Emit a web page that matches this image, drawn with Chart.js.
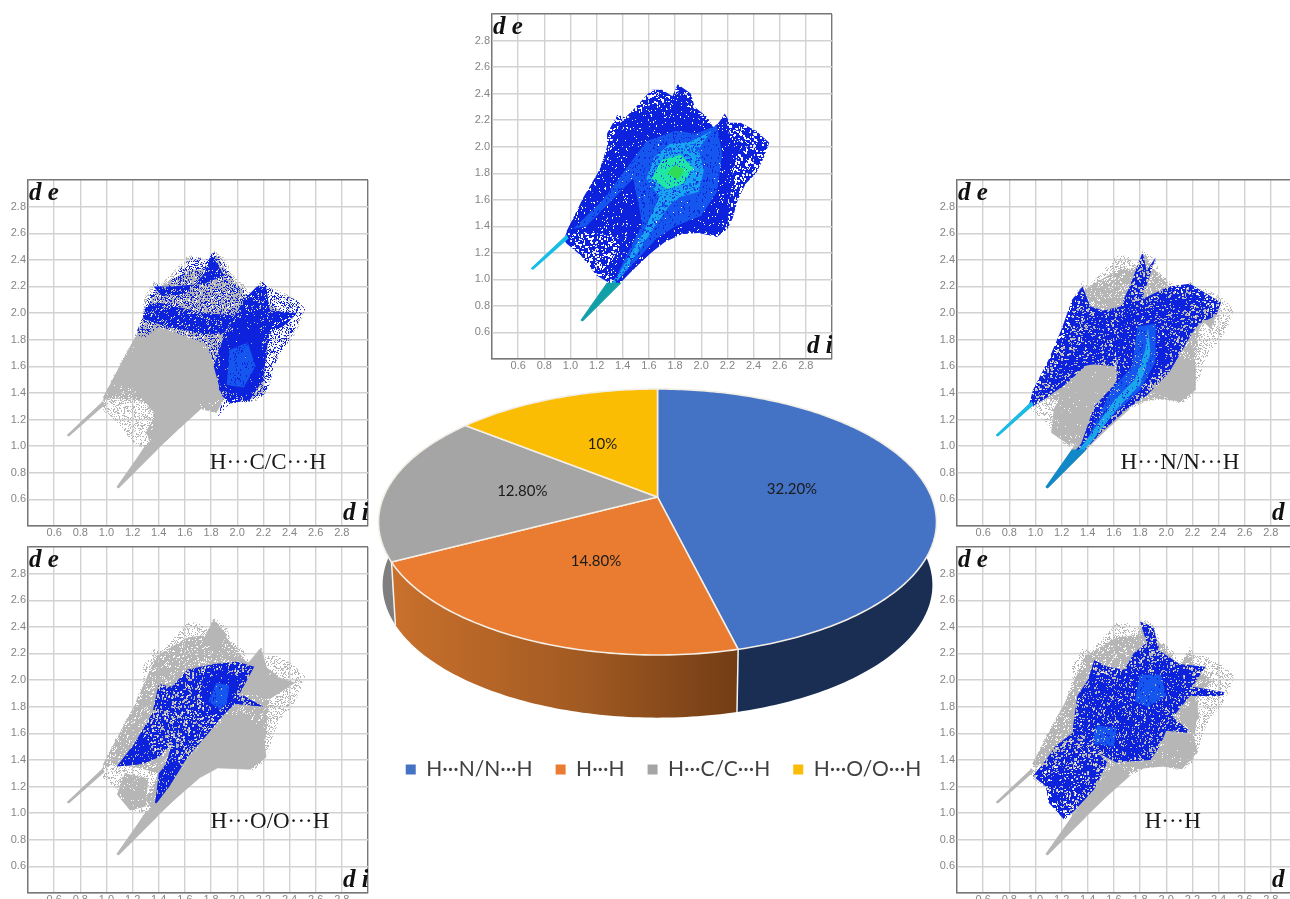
<!DOCTYPE html>
<html><head><meta charset="utf-8">
<script src="https://cdn.jsdelivr.net/npm/chart.js@4"></script>
<style>
html,body{margin:0;padding:0;background:#fff;width:1290px;height:899px;overflow:hidden}
canvas{position:absolute;display:block}
canvas.fp{filter:blur(0.5px)}
</style></head><body>
<script>
// ---------- pie data ----------
const pieCategories = ['H···N/N···H','H···H','H···C/C···H','H···O/O···H'];
const pieValues = [32.2,14.8,12.8,10];
const pieLabels = ['32.20%','14.80%','12.80%','10%'];
const pieColors = ['#4472C4','#E97C30','#A5A5A5','#FBBC04'];

// ---------- fingerprint axis ----------
const axisMin = 0.4, axisMax = 3.0, axisStep = 0.2;

// ---------- fingerprint outlines, read as (d_i, d_e) ----------
const OUTLINE = [[0.95,1.30],[0.98,1.38],[1.10,1.62],[1.22,1.82],[1.28,2.0],[1.28,2.10],[1.36,2.24],[1.42,2.22],[1.50,2.30],[1.62,2.43],[1.70,2.43],[1.78,2.38],[1.82,2.47],[1.92,2.40],[1.95,2.30],[2.05,2.22],[2.10,2.13],[2.18,2.25],[2.22,2.18],[2.30,2.18],[2.42,2.12],[2.52,2.03],[2.48,1.92],[2.42,1.80],[2.34,1.72],[2.28,1.60],[2.24,1.46],[2.20,1.38],[2.12,1.32],[1.98,1.35],[1.85,1.34],[1.72,1.28],[1.55,1.15],[1.38,0.97],[1.30,0.97],[1.20,1.03],[1.08,1.18],[0.97,1.27]];
const BODY = [[0.97,1.36],[1.10,1.60],[1.22,1.82],[1.30,2.0],[1.38,2.18],[1.50,2.25],[1.62,2.32],[1.78,2.34],[1.84,2.44],[1.90,2.34],[2.02,2.20],[2.10,2.10],[2.18,2.22],[2.22,2.10],[2.35,2.0],[2.25,1.88],[2.22,1.60],[2.20,1.40],[2.08,1.34],[1.90,1.36],[1.72,1.30],[1.38,0.98],[1.30,1.10],[1.40,1.30],[1.20,1.35],[1.0,1.36]];
const LOWER_WEDGE = [[1.16,0.78],[1.25,0.87],[1.38,0.97],[1.55,1.13],[1.72,1.28],[1.62,1.38],[1.48,1.22],[1.38,1.08],[1.28,0.98]];
const UPPER_TAIL = [[0.70,1.08],[0.97,1.33],[0.98,1.31],[0.71,1.075]];
const LOWER_TAIL = [[1.08,0.69],[1.28,0.97],[1.38,0.97],[1.09,0.685]];

// centre panel, all contacts
const ALL_DENSE = [[0.98,1.36],[1.14,1.60],[1.24,1.80],[1.34,2.0],[1.42,2.12],[1.60,2.15],[1.72,2.24],[1.82,2.42],[1.90,2.30],[2.06,2.12],[2.18,2.22],[2.22,2.06],[2.30,1.98],[2.22,1.84],[2.20,1.60],[2.16,1.42],[2.04,1.36],[1.85,1.36],[1.70,1.28],[1.38,0.98],[1.28,1.05],[1.42,1.24],[1.44,1.44],[1.30,1.48],[1.16,1.36],[1.0,1.34]];
const ALL_MID = [[1.02,1.38],[1.25,1.60],[1.40,1.80],[1.58,2.04],[1.80,2.12],[1.96,2.10],[2.12,2.16],[2.16,1.94],[2.12,1.66],[2.00,1.48],[1.80,1.40],[1.65,1.30],[1.40,1.03],[1.36,1.04],[1.55,1.42],[1.48,1.76],[1.30,1.58],[1.12,1.40]];
const ALL_CYAN = [[1.58,1.76],[1.64,1.92],[1.76,2.02],[1.92,2.04],[2.08,2.12],[1.98,1.98],[2.02,1.82],[1.98,1.66],[1.84,1.62],[1.76,1.56],[1.62,1.36],[1.42,1.06],[1.14,0.74],[1.38,1.06],[1.56,1.36],[1.68,1.62]];
const ALL_GREEN = [[1.62,1.76],[1.70,1.90],[1.84,1.94],[1.94,1.84],[1.86,1.72],[1.74,1.68]];
const ALL_CORE = [[1.74,1.80],[1.80,1.86],[1.87,1.82],[1.82,1.75]];

// H···C/C···H
const GRAY_CH = [[0.97,1.34],[1.10,1.60],[1.22,1.82],[1.38,1.90],[1.76,1.77],[1.81,1.65],[1.91,1.37],[1.84,1.25],[1.72,1.28],[1.38,0.97],[1.32,1.05],[1.42,1.30],[1.62,1.42],[1.70,1.62],[1.45,1.62],[1.22,1.50],[1.10,1.40]];
const GRAY_CH_FILL = [[1.10,1.50],[1.22,1.72],[1.38,1.86],[1.72,1.76],[1.80,1.60],[1.88,1.38],[1.70,1.32],[1.50,1.20],[1.40,1.02],[1.36,1.26],[1.20,1.44]];
const BLUE_CH = [[1.22,1.83],[1.28,1.98],[1.30,2.08],[1.38,2.22],[1.45,2.18],[1.55,2.32],[1.65,2.42],[1.78,2.40],[1.82,2.46],[1.92,2.36],[1.98,2.22],[2.10,2.15],[2.20,2.24],[2.30,2.15],[2.45,2.10],[2.52,2.03],[2.46,1.92],[2.40,1.80],[2.34,1.72],[2.28,1.60],[2.25,1.47],[2.20,1.38],[2.08,1.33],[2.00,1.33],[1.92,1.30],[1.84,1.21],[1.90,1.36],[1.81,1.65],[1.76,1.77],[1.40,1.90],[1.30,1.82]];
const BLUE_CH_RIGHT = [[1.82,1.60],[1.88,1.78],[1.98,1.98],[2.05,2.10],[2.15,2.20],[2.22,2.20],[2.25,2.02],[2.46,2.0],[2.35,1.90],[2.24,1.85],[2.20,1.50],[2.10,1.35],[1.95,1.32],[1.88,1.38]];
const BLUE_CH_BAND = [[1.28,1.96],[1.45,1.90],[1.78,1.84],[1.90,1.85],[2.0,1.98],[1.75,2.0],[1.40,2.08],[1.30,2.05]];
const BLUE_CH_TOP = [[1.36,2.20],[1.50,2.20],[1.75,2.22],[1.90,2.28],[1.80,2.45],[1.75,2.30],[1.60,2.14],[1.42,2.13]];
const BLUE_CH_DEEP = [[1.86,1.42],[1.88,1.72],[2.0,1.92],[2.16,2.02],[2.20,1.60],[2.10,1.38]];
const BLUE_CH_CORE = [[1.92,1.46],[1.94,1.72],[2.08,1.78],[2.14,1.60],[2.05,1.44]];

// H···O/O···H
const GRAY_OH = [[1.38,0.98],[1.48,1.18],[1.62,1.40],[1.78,1.58],[1.92,1.72],[2.06,1.74],[2.20,1.60],[2.22,1.42],[2.10,1.33],[1.85,1.34],[1.72,1.27]];
const GRAY_OH_TOP = [[2.06,2.10],[2.18,2.24],[2.24,2.04],[2.44,1.98],[2.25,1.86],[2.04,1.92]];
const GRAY_OH_CREST = [[1.74,2.30],[1.82,2.45],[1.92,2.34],[1.84,2.20]];
const GRAY_OH_PATCH = [[1.08,1.14],[1.14,1.30],[1.32,1.26],[1.30,1.05],[1.18,1.02]];
const BLUE_OH = [[1.08,1.35],[1.20,1.50],[1.35,1.75],[1.40,1.97],[1.50,1.95],[1.62,2.08],[1.82,2.12],[2.0,2.14],[2.13,2.10],[2.02,1.90],[2.20,1.80],[1.98,1.82],[1.88,1.72],[1.78,1.60],[1.62,1.42],[1.48,1.20],[1.37,1.06],[1.40,1.25],[1.47,1.42],[1.50,1.52],[1.40,1.42],[1.28,1.37]];
const BLUE_OH_TIP_A = [[1.08,1.35],[1.18,1.48],[1.30,1.58],[1.38,1.44],[1.26,1.37]];
const BLUE_OH_TIP_B = [[1.37,1.06],[1.40,1.30],[1.50,1.42],[1.58,1.36],[1.48,1.20]];
const BLUE_OH_CORE = [[1.72,1.86],[1.74,2.04],[1.90,2.08],[2.04,2.0],[1.96,1.84],[1.84,1.76]];
const BLUE_OH_GLOW = [[1.78,1.84],[1.84,1.98],[1.94,1.96],[1.92,1.82],[1.86,1.78]];

// H···N/N···H
const GRAY_NH = [[1.25,1.48],[1.40,1.62],[1.60,1.62],[1.63,1.46],[1.46,1.30],[1.36,1.02],[1.24,1.02],[1.12,1.10],[1.14,1.28]];
const GRAY_NH_RIGHT = [[1.90,1.40],[2.02,1.56],[2.10,1.68],[2.22,1.60],[2.22,1.42],[2.10,1.33]];
const GRAY_NH_TOP = [[2.28,1.94],[2.40,2.04],[2.34,1.88]];
const BLUE_NH_WING = [[0.95,1.31],[0.98,1.42],[1.10,1.65],[1.20,1.88],[1.28,2.10],[1.36,2.20],[1.42,2.05],[1.52,2.02],[1.65,2.05],[1.72,2.20],[1.82,2.46],[1.85,2.32],[1.92,2.42],[1.82,2.12],[1.72,1.90],[1.65,1.72],[1.60,1.60],[1.40,1.62],[1.25,1.48],[1.08,1.36],[0.98,1.30]];
const BLUE_NH_BODY = [[1.08,0.69],[1.25,0.90],[1.35,1.02],[1.45,1.30],[1.62,1.48],[1.62,1.65],[1.60,1.82],[1.68,2.05],[1.85,2.12],[2.02,2.20],[2.18,2.22],[2.30,2.15],[2.42,2.08],[2.38,1.98],[2.25,1.92],[2.20,1.85],[2.08,1.65],[2.02,1.55],[1.85,1.38],[1.70,1.28],[1.50,1.10],[1.37,0.96],[1.25,0.87]];
const DENSE_NH_WING = [[1.0,1.36],[1.12,1.52],[1.30,1.72],[1.45,2.02],[1.62,2.02],[1.50,1.78],[1.58,1.64],[1.36,1.60],[1.20,1.44]];
const DENSE_NH_BODY = [[1.38,1.02],[1.50,1.32],[1.64,1.52],[1.64,1.80],[1.72,2.02],[2.0,2.14],[2.16,2.12],[2.10,1.84],[1.98,1.58],[1.80,1.42],[1.62,1.24]];
const CYAN_NH = [[1.12,0.72],[1.40,1.06],[1.60,1.34],[1.76,1.50],[1.84,1.72],[1.86,1.90],[1.88,1.70],[1.80,1.46],[1.64,1.30],[1.42,1.02]];
const MID_NH = [[1.38,1.02],[1.58,1.42],[1.74,1.60],[1.78,1.90],[1.92,1.92],[1.92,1.64],[1.80,1.42],[1.60,1.24]];

// H···H
const GRAY_HH = [[1.64,1.36],[1.92,1.42],[2.02,1.60],[2.20,1.60],[2.24,1.46],[2.12,1.33],[1.98,1.35],[1.85,1.34]];
const GRAY_HH_LOW = [[1.30,1.00],[1.38,1.12],[1.52,1.24],[1.60,1.36],[1.72,1.30],[1.38,0.98]];
const GRAY_HH_SIDE = [[2.10,1.72],[2.22,1.86],[2.25,1.72],[2.18,1.62]];
const BLUE_HH = [[0.98,1.28],[1.08,1.40],[1.15,1.50],[1.28,1.60],[1.32,1.88],[1.40,2.0],[1.45,2.15],[1.55,2.10],[1.68,2.08],[1.75,2.20],[1.85,2.28],[1.80,2.44],[1.90,2.40],[1.95,2.22],[2.10,2.12],[2.30,2.10],[2.20,1.95],[2.44,1.91],[2.44,1.88],[2.18,1.88],[2.05,1.72],[2.20,1.60],[2.0,1.62],[1.95,1.50],[1.88,1.40],[1.62,1.38],[1.48,1.45],[1.55,1.38],[1.45,1.18],[1.30,1.02],[1.22,0.95],[1.10,1.08],[1.08,1.20]];
const DENSE_HH = [[1.32,1.62],[1.34,1.86],[1.44,2.04],[1.66,2.02],[1.78,2.12],[1.95,2.14],[2.12,2.06],[2.16,1.90],[2.04,1.72],[2.10,1.62],[1.96,1.62],[1.88,1.42],[1.62,1.40],[1.46,1.50]];
const DENSE_HH_LOW = [[1.12,1.10],[1.12,1.30],[1.24,1.36],[1.30,1.22],[1.20,1.08]];
const GLOW_HH = [[1.44,1.52],[1.46,1.66],[1.62,1.64],[1.60,1.50]];
const GLOW_HH_TOP = [[1.76,1.84],[1.80,2.04],[1.96,2.04],[2.00,1.88],[1.86,1.80]];

// ---------- styles ----------
const BLUE='#0c22dc', MID='#1556ee', CY='#17bde6', GR='#1fe6a4', CORE='#2fdc58', GRAY='#b6b6b6';

let textureOffset=0;
function texture(color, kind){
  const n=96, c=document.createElement('canvas'); c.width=c.height=n;
  const g=c.getContext('2d');
  const cover={dots:3400,mixed:1500,dense:700}[kind];
  g.fillStyle=color;
  if(kind!=='dots') g.fillRect(0,0,n,n);
  textureOffset+=397;
  for(let j=1;j<=cover;j++){
    const i=j+textureOffset;
    const x=Math.floor(((i*i*0.00137+i*0.7548777)%1)*n), y=Math.floor(((i*i*0.00091+i*0.5698403)%1)*n);
    if(kind==='dots') g.fillRect(x,y,1,1);
    else if(kind==='mixed') g.clearRect(x,y,1+j%2,1+(j>>1)%2);
    else g.clearRect(x,y,1,1+j%2);
  }
  return g.createPattern(c,'repeat');
}

const grayBase = [
  {pts:OUTLINE,color:GRAY,kind:'dots'},
  {pts:BODY,color:GRAY,kind:'mixed'},
  {pts:LOWER_WEDGE,color:GRAY},
  {pts:UPPER_TAIL,color:GRAY,line:1.2},
  {pts:LOWER_TAIL,color:GRAY,line:1.2}
];
const panels = [
 {left:492,top:14,h:345,layers:[
   {pts:OUTLINE,color:BLUE,kind:'mixed'},
   {pts:BODY,color:BLUE,kind:'dense'},
   {pts:ALL_DENSE,color:BLUE,kind:'dense'},
   {pts:ALL_MID,color:MID,kind:'dense'},
   {pts:ALL_CYAN,color:'#18a4ee',kind:'mixed'},
   {pts:ALL_GREEN,color:GR,kind:'dense'},
   {pts:ALL_CORE,color:CORE},
   {pts:UPPER_TAIL,color:CY,line:1.2},
   {pts:LOWER_TAIL,color:'#12a0a8',line:1.2}
 ]},
 {left:28,top:180,h:346,note:'H···C/C···H',noteAt:[2.235,0.873],layers:[...grayBase,
   {pts:GRAY_CH,color:GRAY,kind:'dense'},
   {pts:GRAY_CH_FILL,color:GRAY},
   {pts:BLUE_CH,color:BLUE,kind:'dots'},
   {pts:BLUE_CH_BAND,color:BLUE,kind:'mixed'},
   {pts:BLUE_CH_TOP,color:BLUE,kind:'mixed'},
   {pts:BLUE_CH_RIGHT,color:BLUE,kind:'mixed'},
   {pts:BLUE_CH_DEEP,color:BLUE,kind:'dense'},
   {pts:BLUE_CH_CORE,color:MID,kind:'dense'}
 ]},
 {left:28,top:547,h:346,note:'H···O/O···H',noteAt:[2.25,0.933],layers:[...grayBase,
   {pts:GRAY_OH,color:GRAY},{pts:GRAY_OH_TOP,color:GRAY},{pts:GRAY_OH_CREST,color:GRAY},{pts:GRAY_OH_PATCH,color:GRAY,kind:'dense'},
   {pts:BLUE_OH,color:BLUE,kind:'mixed'},
   {pts:BLUE_OH_TIP_A,color:BLUE,kind:'dense'},
   {pts:BLUE_OH_TIP_B,color:BLUE,kind:'dense'},
   {pts:BLUE_OH_CORE,color:BLUE,kind:'dense'},
   {pts:BLUE_OH_GLOW,color:MID,kind:'dense'}
 ]},
 {left:957,top:180,h:346,note:'H···N/N···H',noteAt:[2.105,0.873],layers:[...grayBase,
   {pts:GRAY_NH,color:GRAY,kind:'dense'},{pts:GRAY_NH_RIGHT,color:GRAY},{pts:GRAY_NH_TOP,color:GRAY},
   {pts:BLUE_NH_WING,color:BLUE,kind:'mixed'},
   {pts:BLUE_NH_BODY,color:BLUE,kind:'mixed'},
   {pts:DENSE_NH_WING,color:BLUE,kind:'mixed'},
   {pts:DENSE_NH_BODY,color:BLUE,kind:'mixed'},
   {pts:MID_NH,color:MID,kind:'dense'},
   {pts:CYAN_NH,color:'#1ba6ea',kind:'dense'},
   {pts:UPPER_TAIL,color:CY,line:1.2},
   {pts:LOWER_TAIL,color:'#1188c8',line:1.2}
 ]},
 {left:957,top:547,h:346,note:'H···H',noteAt:[2.05,0.933],layers:[...grayBase,
   {pts:GRAY_HH,color:GRAY,kind:'dense'},{pts:GRAY_HH_LOW,color:GRAY},{pts:GRAY_HH_SIDE,color:GRAY},
   {pts:BLUE_HH,color:BLUE,kind:'mixed'},
   {pts:DENSE_HH,color:BLUE,kind:'mixed'},
   {pts:DENSE_HH_LOW,color:BLUE,kind:'mixed'},
   {pts:GLOW_HH,color:MID,kind:'dense'},
   {pts:GLOW_HH_TOP,color:MID,kind:'dense'}
 ]}
];

const AXIS_W=28, AXIS_H=20, PLOT_W=340;
const frameColor=c=>{const v=c.tick&&c.tick.value;return (v<axisMin+0.05||v>axisMax-0.05)?'#777':'#d2d2d2';};
const tickText=v=>(v<axisMin+0.05||v>axisMax-0.05)?'':Number(v).toFixed(1);

const fpText={id:'fpText',afterDatasetsDraw(chart,_a,o){
  const {ctx,chartArea:A,scales:S}=chart;
  ctx.save();
  ctx.beginPath();ctx.rect(A.left-2,A.top,A.right-A.left+2,A.bottom-A.top);ctx.clip();
  ctx.fillStyle='#111';ctx.textBaseline='alphabetic';ctx.textAlign='left';
  ctx.font='bold italic 25px "Liberation Serif"';
  ctx.fillText('d e',A.left+1,A.top+20);
  ctx.fillText('d i',A.right-25,A.bottom-6);
  if(o.note){
    ctx.font='23px "Liberation Serif"';ctx.textAlign='center';ctx.textBaseline='middle';ctx.fillStyle='#1a1a1a';
    ctx.fillText(o.note,S.x.getPixelForValue(o.noteAt[0]),S.y.getPixelForValue(o.noteAt[1]));
  }
  ctx.restore();
}};

panels.forEach(p=>{
  const cv=document.createElement('canvas');
  cv.className='fp';cv.width=AXIS_W+PLOT_W+2;cv.height=p.h+AXIS_H+1;
  cv.style.left=(p.left-AXIS_W)+'px';cv.style.top=(p.top-1)+'px';
  document.body.appendChild(cv);
  // Chart.js paints the first dataset last, so the layers are handed over top first
  const datasets=p.layers.map(l=>({
    data:l.pts.map(([x,y])=>({x,y})),showLine:true,fill:'shape',tension:0,pointRadius:0,
    borderWidth:l.line||0.6,borderColor:l.line?l.color:(l.kind?'rgba(0,0,0,0)':l.color),
    backgroundColor:l.kind?texture(l.color,l.kind):l.color
  })).reverse();
  new Chart(cv,{type:'scatter',data:{datasets},plugins:[fpText],options:{
    responsive:false,animation:false,devicePixelRatio:1,
    layout:{padding:{top:1,right:2,left:0,bottom:0}},
    plugins:{legend:{display:false},tooltip:{enabled:false},fpText:{note:p.note,noteAt:p.noteAt}},
    scales:{
      x:{type:'linear',min:axisMin,max:axisMax,afterFit(s){s.height=AXIS_H;s.paddingLeft=0;s.paddingRight=0;},
        afterBuildTicks(s){s.ticks.forEach(t=>{t.value=Math.round(t.value*10)/10;});},
        ticks:{stepSize:axisStep,autoSkip:false,maxRotation:0,padding:0,callback:tickText,color:'#858585',font:{family:'"Liberation Sans"',size:11}},
        grid:{color:frameColor,lineWidth:1.4,drawTicks:false},border:{color:'#777',width:1.2}},
      y:{type:'linear',min:axisMin,max:axisMax,afterFit(s){s.width=AXIS_W;s.paddingTop=0;s.paddingBottom=0;},
        afterBuildTicks(s){s.ticks.forEach(t=>{t.value=Math.round(t.value*10)/10;});},
        ticks:{stepSize:axisStep,autoSkip:false,padding:2,callback:tickText,color:'#858585',font:{family:'"Liberation Sans"',size:11}},
        grid:{color:frameColor,lineWidth:1.4,drawTicks:false},border:{color:'#777',width:1.2}}
    }}});
});

// ---------- the perspective pie ----------
const PIE_SHIFT=-6;
const PIE_TOP={apexY:117,a:128.3,b:274,k:0.188};
const PIE_BOTTOM={apexY:180,a:128,b:270,k:0.188};
function project(f,cx,ang,r=1){
  const X=Math.cos(ang)*r,Y=Math.sin(ang)*r,d=1-f.k*Y;
  return [cx+PIE_SHIFT+f.b*X/d,f.apexY+f.a*Y/d];
}
const wallPaint=[
  (g)=>'#1a2e54',
  (g)=>{const l=g.createLinearGradient(17,0,361,0);l.addColorStop(0,'#c9702c');l.addColorStop(0.55,'#a15a22');l.addColorStop(1,'#733d15');return l;},
  (g)=>'#7f7f7f',
  (g)=>'#a07a00'
];
const pie3d={id:'pie3d',beforeDatasetsDraw(chart){
  const g=chart.ctx,arcs=chart.getDatasetMeta(0).data,STEP=Math.PI/180;
  const span=(a,b)=>{const o=[];for(let t=a;t<b;t+=STEP)o.push(t);o.push(b);return o;};
  g.save();
  // side walls, back to front
  [3,2,0,1].forEach(i=>{
    const e=arcs[i],ts=span(e.startAngle,e.endAngle);
    g.beginPath();
    ts.forEach((t,n)=>{const p=project(PIE_TOP,e.x,t);n?g.lineTo(p[0],p[1]):g.moveTo(p[0],p[1]);});
    ts.slice().reverse().forEach(t=>{const p=project(PIE_BOTTOM,e.x,t);g.lineTo(p[0],p[1]);});
    g.closePath();g.fillStyle=wallPaint[i](g);g.fill();
  });
  // joints between walls on the visible side
  g.strokeStyle='#f4f4f4';g.lineWidth=1.5;
  arcs.forEach(e=>{
    if(Math.sin(e.endAngle)>0.2){
      const a=project(PIE_TOP,e.x,e.endAngle),b=project(PIE_BOTTOM,e.x,e.endAngle);
      g.beginPath();g.moveTo(a[0],a[1]);g.lineTo(b[0],b[1]);g.stroke();
    }
  });
  // top faces
  arcs.forEach((e,i)=>{
    g.beginPath();g.moveTo(e.x+PIE_SHIFT,PIE_TOP.apexY);
    span(e.startAngle,e.endAngle).forEach(t=>{const p=project(PIE_TOP,e.x,t);g.lineTo(p[0],p[1]);});
    g.closePath();g.fillStyle=e.options.backgroundColor;g.fill();
    g.strokeStyle='#f3eee6';g.lineWidth=1.6;g.lineJoin='round';g.stroke();
  });
  // percentage labels
  g.font='15px Lato';g.textAlign='center';g.textBaseline='middle';g.fillStyle='#1b1b1b';
  arcs.forEach((e,i)=>{
    const p=project(PIE_TOP,e.x,(e.startAngle+e.endAngle)/2,0.5);
    g.fillText(pieLabels[i],p[0],p[1]);
  });
  g.restore();
  return false;
}};

const pc=document.createElement('canvas');
pc.width=575;pc.height=410;pc.style.left='376px';pc.style.top='380px';pc.className='fp';
document.body.appendChild(pc);
new Chart(pc,{type:'pie',plugins:[pie3d],
  data:{labels:pieCategories,datasets:[{data:pieValues,backgroundColor:pieColors,borderWidth:0}]},
  options:{responsive:false,animation:false,devicePixelRatio:1,
    plugins:{tooltip:{enabled:false},
      legend:{position:'bottom',labels:{color:'#404040',boxWidth:10,boxHeight:10,padding:23,font:{family:'Lato',size:21}}}}}});
</script>
</body></html>
